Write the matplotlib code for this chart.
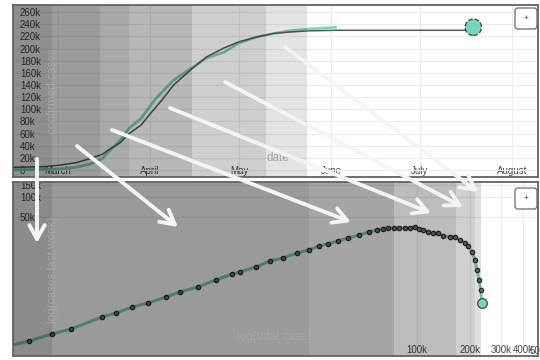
import numpy as np
import matplotlib
matplotlib.use('Agg')
import matplotlib.pyplot as plt
import matplotlib.dates as mdates
import matplotlib.transforms as mtransforms
from matplotlib.patches import FancyArrowPatch, FancyBboxPatch
from matplotlib.ticker import FixedLocator, FixedFormatter, NullLocator

plt.rcParams['font.family'] = ['Liberation Sans', 'DejaVu Sans']

# ---------------- top panel data ----------------
confirmed_dates = ['2020-02-15', '2020-02-25', '2020-03-01', '2020-03-07', '2020-03-12',
                   '2020-03-16', '2020-03-18', '2020-03-22', '2020-03-25', '2020-03-29',
                   '2020-04-01', '2020-04-03', '2020-04-09', '2020-04-15', '2020-04-20',
                   '2020-04-26', '2020-05-01', '2020-05-07', '2020-05-13', '2020-05-18',
                   '2020-05-24', '2020-06-03']
confirmed_cases = [500, 800, 1600, 4400, 10000, 19000, 30000, 49000, 69000, 85000,
                   105000, 118000, 148000, 168000, 184000, 194000, 209000, 219000,
                   225000, 229000, 232000, 235000]

model_dates = ['2020-02-15', '2020-02-25', '2020-03-01', '2020-03-07', '2020-03-12',
               '2020-03-16', '2020-03-18', '2020-03-22', '2020-03-25', '2020-03-29',
               '2020-04-01', '2020-04-05', '2020-04-09', '2020-04-15', '2020-04-20',
               '2020-04-26', '2020-05-01', '2020-05-07', '2020-05-13', '2020-05-18',
               '2020-05-24', '2020-06-03', '2020-07-19']
model_cases = [4400, 5500, 7700, 12000, 19000, 26000, 33000, 45000, 60000, 74000,
               92000, 115000, 140000, 166000, 186000, 201000, 211000, 219000,
               225000, 227000, 229000, 230000, 230000]

prediction_date = ['2020-07-19']
prediction_cases = [235000]

top_band_edges = ['2020-02-28', '2020-03-15', '2020-03-25', '2020-04-15', '2020-05-10', '2020-05-24']
top_band_alpha = [0.443, 0.388, 0.333, 0.278, 0.188, 0.106]

top_ytick_values = [0, 20000, 40000, 60000, 80000, 100000, 120000, 140000, 160000,
                    180000, 200000, 220000, 240000, 260000]
top_ytick_labels = ['0', '20k', '40k', '60k', '80k', '100k', '120k', '140k', '160k',
                    '180k', '200k', '220k', '240k', '260k']
month_ticks = ['2020-03-01', '2020-04-01', '2020-05-01', '2020-06-01', '2020-07-01', '2020-08-01']
month_labels = ['March', 'April', 'May', 'June', 'July', 'August']

# ---------------- bottom panel data ----------------
total_cases = [507, 625, 843, 1081, 1622, 1950, 2404, 2963, 3750, 4500, 5700, 7210, 8890,
               9870, 12160, 14620, 17330, 20800, 24330, 27750, 31200, 35560, 40550, 46800,
               53350, 59290, 64100, 68400, 73960, 79070, 85500, 91200, 97400, 102600,
               108100, 115500, 123300, 131600, 140500, 154000, 164400, 175500, 187400,
               194800, 205400, 213600, 219300, 225000, 231000, 234000]
weekly_cases = [618, 710, 902, 1072, 1618, 1857, 2281, 2616, 3218, 3819, 4538, 5770, 7092,
                7600, 9020, 11090, 12300, 14590, 16180, 18570, 19900, 22030, 24430, 27080,
                30050, 32180, 33270, 34450, 34450, 34450, 34450, 34450, 35650, 33270,
                32180, 30050, 29040, 29040, 26180, 25270, 25270, 22800, 20570, 18570,
                15100, 11480, 8140, 5770, 4090, 2616]

bottom_band_edges = [843, 24300, 74000, 166000, 215000, 232000]
bottom_band_alpha = [0.455, 0.396, 0.353, 0.263, 0.184, 0.12]

bottom_xtick_values = [100000, 200000, 300000, 400000]
bottom_xtick_labels = ['100k', '200k', '300k', '400k']
extra_xtick_value = 500000
extra_xtick_label = '500k'
bottom_ytick_values = [50000, 100000, 150000]
bottom_ytick_labels = ['50k', '100k', '150k']

# ---------------- styles ----------------
TEAL = '#74d6bb'
GRID = '#ececec'
SPINE = '#626262'
TICKC = '#454545'
LABELC = '#a8a8a8'

fig = plt.figure(figsize=(5.4, 3.6), dpi=100)
ax1 = fig.add_axes([13 / 540, 1 - 177 / 360, 525 / 540, 172 / 360])
ax2 = fig.add_axes([13 / 540, 1 - 356 / 360, 525 / 540, 174 / 360])


def style_axes(ax):
    for s in ax.spines.values():
        s.set_color(SPINE)
        s.set_linewidth(1.3)
        s.set_zorder(6)
    ax.grid(True, color=GRID, lw=0.8)
    ax.tick_params(axis='both', which='both', length=0, colors=TICKC, labelsize=7)
    ax.tick_params(axis='y', pad=-5)
    ax.tick_params(axis='x', pad=-1)


# ---------- top axes ----------
cdates = np.array(confirmed_dates, dtype='datetime64[D]')
mdates_arr = np.array(model_dates, dtype='datetime64[D]')
pdates = np.array(prediction_date, dtype='datetime64[D]')
mar1 = mdates.date2num(np.datetime64('2020-03-01'))
xl = (mar1 - 15.17, mar1 + 161.8)

ax1.plot(mdates_arr, model_cases, color='#5a5a5a', lw=1.1, zorder=2.2)
ax1.plot(cdates, confirmed_cases, color=TEAL, lw=1.9, zorder=2.1, solid_capstyle='butt')
ax1.scatter(pdates, prediction_cases, s=140, facecolor=TEAL, edgecolor='#3c3c3c',
            linewidths=0.9, linestyle='--', zorder=4)

left = xl[0]
for edge, a in zip(top_band_edges, top_band_alpha):
    e = mdates.date2num(np.datetime64(edge))
    ax1.axvspan(left, e, color='black', alpha=a, lw=0, zorder=3)
    left = e

ax1.set_xlim(*xl)
ax1.set_ylim(-11500, 271600)
ax1.yaxis.set_major_locator(FixedLocator(top_ytick_values))
ax1.yaxis.set_major_formatter(FixedFormatter(top_ytick_labels))
ax1.xaxis.set_major_locator(FixedLocator(mdates.date2num(np.array(month_ticks, dtype='datetime64[D]'))))
ax1.xaxis.set_major_formatter(FixedFormatter(month_labels))
style_axes(ax1)
for t in ax1.get_yticklabels():
    t.set_ha('left')
for t in ax1.get_xticklabels():
    t.set_va('bottom')

ax1.text(0.076, 0.5, 'confirmed cases', rotation=90, transform=ax1.transAxes,
         ha='center', va='center', color=LABELC, fontsize=8.5, zorder=7)
ax1.text(0.505, 0.11, 'date', transform=ax1.transAxes, ha='center', va='center',
         color=LABELC, fontsize=8.5, zorder=7)

# ---------- bottom axes ----------
n = len(total_cases)
ax2.plot(total_cases, weekly_cases, color=TEAL, lw=2.2, zorder=2,
         marker='o', ms=3.2, mfc='#6e6e6e', mec='#262626', mew=0.8,
         markevery=list(range(1, n - 1)))
ax2.plot(total_cases[-1:], weekly_cases[-1:], marker='o', ms=7, color=TEAL,
         mec='#3c3c3c', mew=0.8, ls='none', zorder=4)
ax2.set_xscale('log')
ax2.set_yscale('log')
ax2.set_xlim(507, 487000)
ax2.set_ylim(424, 167000)

left = 507
for edge, a in zip(bottom_band_edges, bottom_band_alpha):
    ax2.axvspan(left, edge, color='black', alpha=a, lw=0, zorder=3)
    left = edge

ax2.xaxis.set_major_locator(FixedLocator(bottom_xtick_values))
ax2.xaxis.set_major_formatter(FixedFormatter(bottom_xtick_labels))
ax2.xaxis.set_minor_locator(NullLocator())
ax2.yaxis.set_major_locator(FixedLocator(bottom_ytick_values))
ax2.yaxis.set_major_formatter(FixedFormatter(bottom_ytick_labels))
ax2.yaxis.set_minor_locator(NullLocator())
style_axes(ax2)
for t in ax2.get_yticklabels():
    t.set_ha('left')
    t.set_clip_box(ax2.bbox)
    t.set_clip_on(True)
for t in ax2.get_xticklabels():
    t.set_va('bottom')
blend = mtransforms.blended_transform_factory(ax2.transData, ax2.transAxes)
ax2.axvline(extra_xtick_value, color=GRID, lw=0.8, zorder=1.5)
ax2.text(extra_xtick_value, 0.5 / 174, extra_xtick_label, transform=blend, ha='center',
         va='bottom', fontsize=7, color=TICKC, clip_on=False, zorder=1.5)

ax2.text(0.076, 0.494, 'log(cases last week)', rotation=90, transform=ax2.transAxes,
         ha='center', va='center', color=LABELC, fontsize=8.5, zorder=7)
ax2.text(0.503, 0.109, 'log(total cases)', transform=ax2.transAxes, ha='center',
         va='center', color=LABELC, fontsize=8.5, zorder=7)

# ---------- overlay arrows (figure pixels from top-left) ----------
arrows = [((37, 159), (37, 243)),
          ((77, 146), (178, 227)),
          ((112, 130), (351, 222)),
          ((170, 108), (431, 213)),
          ((225, 82), (463, 207)),
          ((285, 47), (478, 192))]
for (x0, y0), (x1, y1) in arrows:
    arr = FancyArrowPatch((x0 / 540, 1 - y0 / 360), (x1 / 540, 1 - y1 / 360),
                          transform=fig.transFigure,
                          arrowstyle='->,head_length=10,head_width=5.5',
                          mutation_scale=1, lw=2.8, color='#f4f4f4',
                          shrinkA=0, shrinkB=0, zorder=10)
    fig.add_artist(arr)

# ---------- "+" buttons ----------
for (bx, by) in [(515, 8), (515, 188)]:
    box = FancyBboxPatch((bx / 100, (360 - by - 21) / 100), 0.22, 0.21,
                         boxstyle='round,pad=0,rounding_size=0.03',
                         transform=fig.dpi_scale_trans, facecolor='white',
                         edgecolor='#6a6a6a', lw=0.9, zorder=11)
    fig.add_artist(box)
    fig.text((bx + 11) / 540, 1 - (by + 10.5) / 360, '+', ha='center', va='center',
             fontsize=6, color='#333333', zorder=12)

fig.savefig('out.png', dpi=100)
